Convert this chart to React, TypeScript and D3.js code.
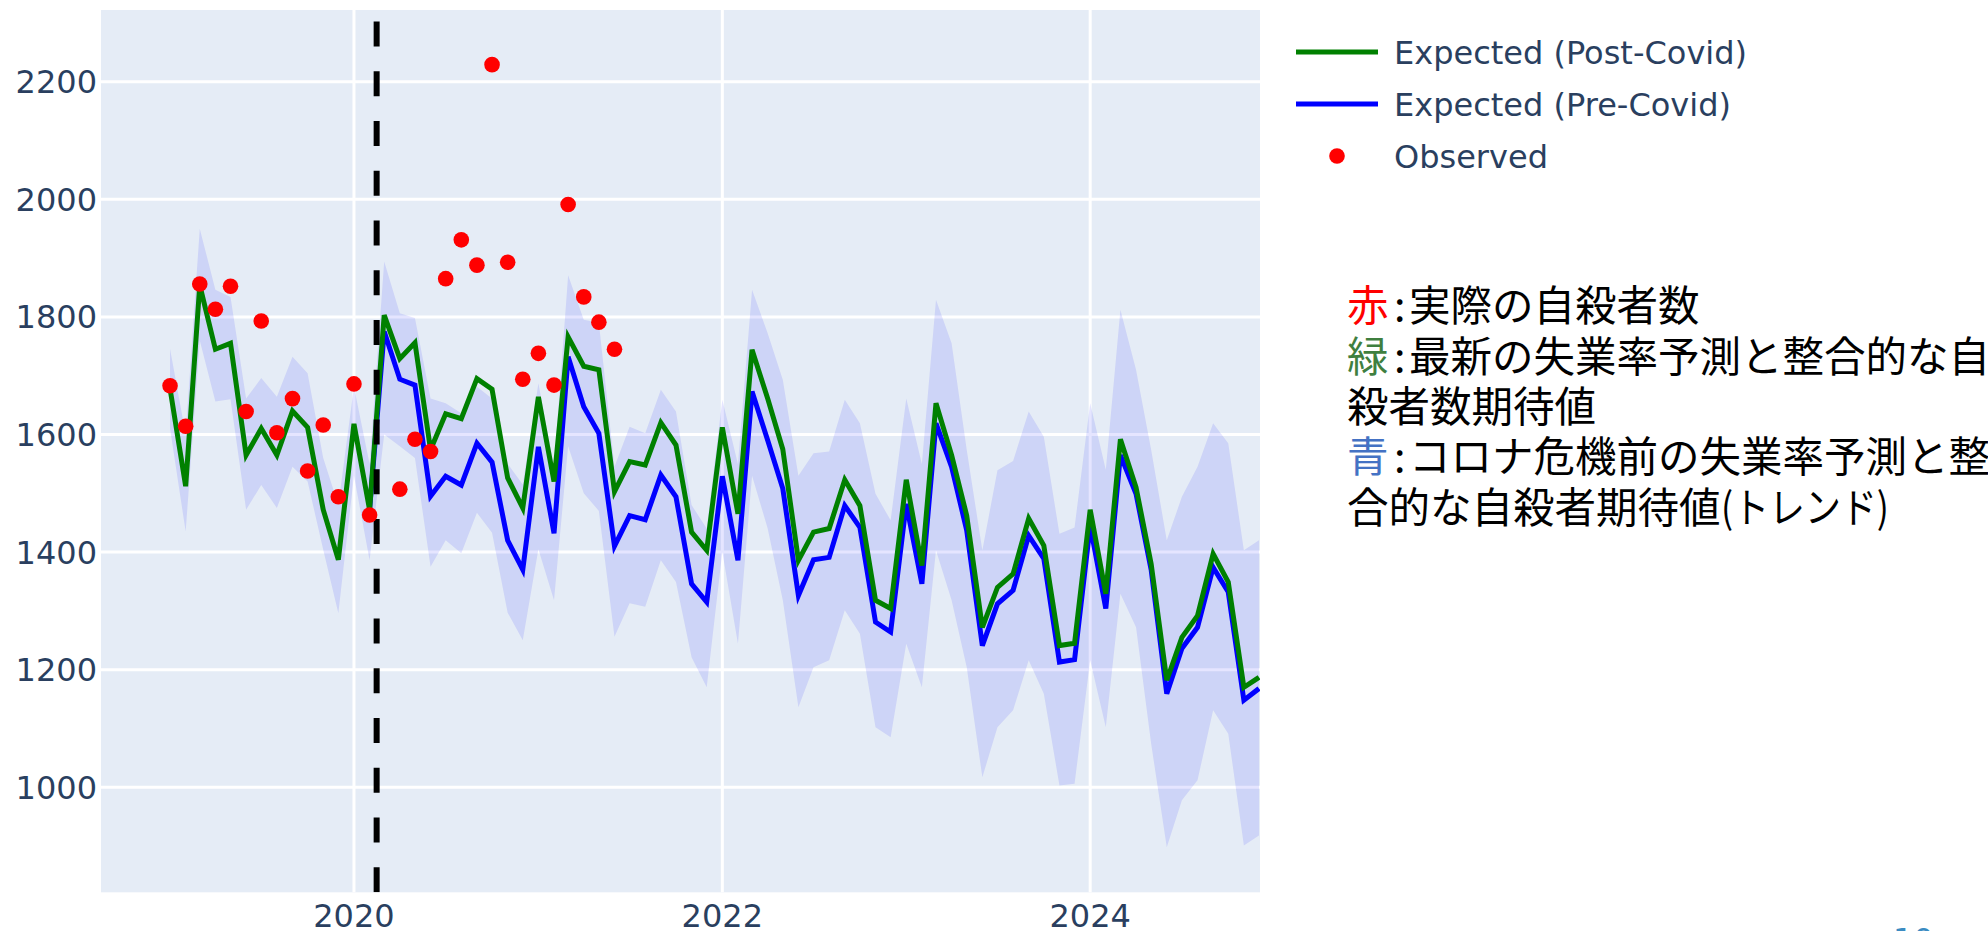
import React from 'react';
import * as d3 from 'd3';

// ---- data (monthly, Jan 2019 .. Dec 2024) ----
const months: Date[] = d3.utcMonth.range(new Date(Date.UTC(2019, 0, 1)), new Date(Date.UTC(2025, 0, 1)));

const observed: (number | null)[] = [
  1683, 1614, 1856, 1813, 1852, 1639, 1793, 1603, 1661, 1538, 1616, 1494,
  1686, 1463, null, 1507, 1592, 1571, 1865, 1931, 1888, 2229, 1893, 1694,
  1738, 1684, 1991, 1834, 1791, 1745,
];

const expectedPost: number[] = [
  1678, 1512, 1854, 1745, 1755, 1565, 1610, 1565, 1640, 1612, 1472, 1387,
  1618, 1472, 1803, 1729, 1756, 1574, 1635, 1627, 1695, 1677, 1526, 1475,
  1664, 1520, 1766, 1716, 1710, 1503, 1554, 1548, 1620, 1582, 1434, 1403,
  1612, 1465, 1744, 1661, 1575, 1386, 1434, 1440, 1523, 1479, 1318, 1304,
  1523, 1377, 1653, 1565, 1462, 1272, 1340, 1363, 1457, 1411, 1241, 1245,
  1472, 1329, 1592, 1510, 1380, 1182, 1255, 1292, 1397, 1349, 1170, 1187,
];

const expectedPre: (number | null)[] = [
  null, null, null, null, null, null, null, null, null, null, null, null,
  null, 1472, 1775, 1694, 1684, 1495, 1529, 1514, 1585, 1553, 1420, 1370,
  1579, 1432, 1732, 1647, 1602, 1410, 1462, 1455, 1531, 1494, 1346, 1315,
  1529, 1386, 1673, 1590, 1508, 1326, 1387, 1391, 1479, 1442, 1281, 1264,
  1482, 1346, 1619, 1545, 1437, 1241, 1312, 1335, 1428, 1389, 1213, 1217,
  1445, 1304, 1565, 1499, 1370, 1159, 1236, 1272, 1374, 1332, 1148, 1168,
];

const bandUpper: number[] = [
  1746, 1600, 1950, 1846, 1834, 1661, 1696, 1664, 1732, 1704, 1560, 1480,
  1681, 1550, 1894, 1806, 1798, 1661, 1653, 1636, 1681, 1661, 1550, 1515,
  1687, 1545, 1871, 1795, 1790, 1545, 1613, 1602, 1676, 1639, 1480, 1440,
  1659, 1550, 1846, 1772, 1693, 1530, 1568, 1571, 1659, 1619, 1499, 1454,
  1661, 1550, 1829, 1755, 1574, 1403, 1539, 1555, 1639, 1596, 1431, 1442,
  1653, 1540, 1812, 1710, 1574, 1420, 1494, 1545, 1619, 1585, 1403, 1420,
];

const bandLower: number[] = [
  1610, 1435, 1760, 1656, 1660, 1472, 1514, 1475, 1545, 1520, 1404, 1296,
  1530, 1386, 1600, 1580, 1560, 1375, 1420, 1398, 1467, 1433, 1297, 1250,
  1405, 1318, 1580, 1500, 1470, 1256, 1313, 1307, 1386, 1349, 1221, 1170,
  1400, 1244, 1530, 1440, 1318, 1136, 1204, 1216, 1301, 1261, 1102, 1085,
  1244, 1170, 1403, 1318, 1204, 1017, 1102, 1131, 1216, 1159, 1003, 1006,
  1216, 1102, 1329, 1272, 1074, 898, 978, 1012, 1131, 1091, 901, 918,
];

const yTicks: number[] = [1000, 1200, 1400, 1600, 1800, 2000, 2200];
const xTickYears: number[] = [2020, 2022, 2024];
const covidStart = new Date(Date.UTC(2020, 1, 15));

const legendItems = [
  { label: 'Expected (Post-Covid)', kind: 'line', color: '#008000' },
  { label: 'Expected (Pre-Covid)', kind: 'line', color: '#0000ff' },
  { label: 'Observed', kind: 'dot', color: '#ff0000' },
];

// ---- layout ----
const W = 1988;
const H = 931;
const PL = 101;
const PR = 1260;
const PT = 10;
const PB = 892.3;
const TICK_FONT = 'DejaVu Sans, Verdana, sans-serif';
const TICK_COLOR = '#2a3f5f';

export default function App() {
  const x = d3
    .scaleUtc()
    .domain([new Date(Date.UTC(2018, 7, 17)), new Date(Date.UTC(2024, 11, 3))])
    .range([PL, PR]);
  const y = d3.scaleLinear().domain([821.4, 2321.9]).range([PB, PT]);

  const idx = d3.range(months.length);

  const area = d3
    .area<number>()
    .x((i) => x(months[i]))
    .y0((i) => y(bandLower[i]))
    .y1((i) => y(bandUpper[i]));

  const postLine = d3
    .line<number>()
    .x((i) => x(months[i]))
    .y((i) => y(expectedPost[i]));

  const preLine = d3
    .line<number>()
    .defined((i) => expectedPre[i] != null)
    .x((i) => x(months[i]))
    .y((i) => y(expectedPre[i] as number));

  const cx = x(covidStart);

  return (
    <div style={{ position: 'absolute', left: 0, top: 0, width: W, height: H, background: '#fff' }}>
      <svg width={W} height={H} viewBox={`0 0 ${W} ${H}`} style={{ display: 'block' }}>
        <defs>
          <clipPath id="plotclip">
            <rect x={PL} y={PT} width={PR - PL} height={PB - PT} />
          </clipPath>
        </defs>
        <rect x={0} y={0} width={W} height={H} fill="#fff" />
        <rect x={PL} y={PT} width={PR - PL} height={PB - PT} fill="#e5ecf6" />

        {/* grid */}
        {yTicks.map((t) => (
          <line key={'gy' + t} x1={PL} x2={PR} y1={y(t)} y2={y(t)} stroke="#fff" strokeWidth={3} />
        ))}
        {xTickYears.map((yr) => {
          const xv = x(new Date(Date.UTC(yr, 0, 1)));
          return <line key={'gx' + yr} x1={xv} x2={xv} y1={PT} y2={PB} stroke="#fff" strokeWidth={3} />;
        })}

        <g clipPath="url(#plotclip)">
          <path d={area(idx) || ''} fill="rgba(0,0,255,0.1)" stroke="none" />
          <path d={preLine(idx) || ''} fill="none" stroke="#0000ff" strokeWidth={5} />
          <path d={postLine(idx) || ''} fill="none" stroke="#008000" strokeWidth={5} />
          <line x1={cx} x2={cx} y1={PB} y2={PT} stroke="#000" strokeWidth={6} strokeDasharray="25 24.75" />
          {idx
            .filter((i) => i < observed.length && observed[i] != null)
            .map((i) => (
              <circle key={'o' + i} cx={x(months[i])} cy={y(observed[i] as number)} r={7.8} fill="#ff0000" />
            ))}
        </g>

        {/* y tick labels */}
        {yTicks.map((t) => (
          <text
            key={'ty' + t}
            x={97}
            y={y(t)}
            dy="0.36em"
            textAnchor="end"
            fontFamily={TICK_FONT}
            fontSize={32}
            fill={TICK_COLOR}
          >
            {t}
          </text>
        ))}
        {/* x tick labels */}
        {xTickYears.map((yr) => (
          <text
            key={'tx' + yr}
            x={x(new Date(Date.UTC(yr, 0, 1)))}
            y={927}
            textAnchor="middle"
            fontFamily={TICK_FONT}
            fontSize={32}
            fill={TICK_COLOR}
          >
            {yr}
          </text>
        ))}

        {/* legend */}
        {legendItems.map((it, k) => {
          const ly = 52 + k * 52;
          return (
            <g key={'lg' + k}>
              {it.kind === 'line' ? (
                <line x1={1296} x2={1378} y1={ly} y2={ly} stroke={it.color} strokeWidth={5} />
              ) : (
                <circle cx={1337} cy={ly} r={7.8} fill={it.color} />
              )}
              <text x={1394} y={ly} dy="0.36em" fontFamily={TICK_FONT} fontSize={32} fill={TICK_COLOR}>
                {it.label}
              </text>
            </g>
          );
        })}

        {/* Japanese annotation */}
        <g fontFamily="'Noto Sans CJK JP', sans-serif" fontSize={41.5} fill="#000" dominantBaseline="central">
          <text x={1347} y={303}>
            <tspan fill="#ff0000">赤</tspan>
            <tspan x={1394}>:</tspan>
            <tspan x={1409}>実際の自殺者数</tspan>
          </text>
          <text x={1347} y={354}>
            <tspan fill="#3f7f3f">緑</tspan>
            <tspan x={1394}>:</tspan>
            <tspan x={1409}>最新の失業率予測と整合的な自</tspan>
          </text>
          <text x={1347} y={404}>殺者数期待値</text>
          <text x={1347} y={454}>
            <tspan fill="#4472c4">青</tspan>
            <tspan x={1394}>:</tspan>
            <tspan x={1409}>コロナ危機前の失業率予測と整</tspan>
          </text>
          <text x={1347} y={505}>合的な自殺者期待値</text>
          <text x={1721} y={505} textLength={168} lengthAdjust="spacingAndGlyphs">
            (トレンド)
          </text>
        </g>

        {/* page number, mostly cut off */}
        <text x={1893} y={951} fontFamily={TICK_FONT} fontSize={32} fill="#3b8bc2">
          10
        </text>
      </svg>
    </div>
  );
}
